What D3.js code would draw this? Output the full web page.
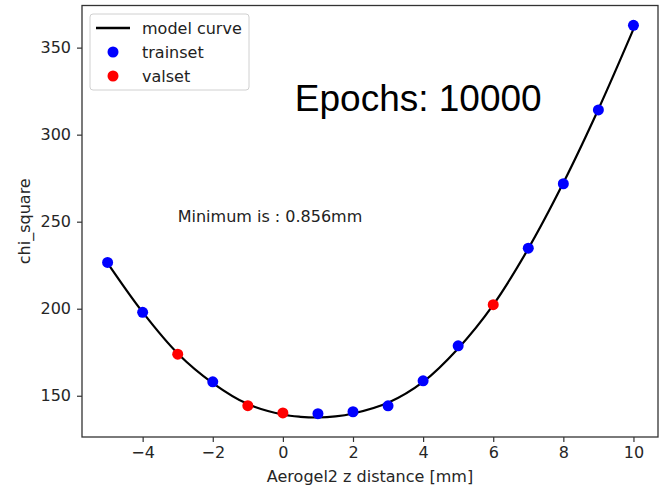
<!DOCTYPE html>
<html>
<head>
<meta charset="utf-8">
<script src="https://cdn.jsdelivr.net/npm/d3@7"></script>
<style>
  html, body { margin: 0; padding: 0; background: #fff; }
  svg { display: block; }
  text { font-family: "DejaVu Sans", sans-serif; }
</style>
</head>
<body>
<svg id="chart" width="660" height="488"></svg>
<script>
// Scan of chi_square against Aerogel2 z position
const trainX = [-5, -4, -2, 1, 2, 3, 4, 5, 7, 8, 9, 10];
const trainY = [226.6, 197.9, 158.0, 139.7, 140.8, 144.2, 158.6, 178.7, 234.8, 271.8, 314.2, 362.8];
const valX = [-3, -1, 0, 6];
const valY = [173.9, 144.3, 140.1, 202.3];

// fitted model curve, sampled along z
const curveX = [-5, -4, -3, -2, -1, 0, 0.5, 1, 1.5, 2, 3, 4, 5, 6, 7, 8, 9, 10];
const curveY = [226.2, 198.0, 174.3, 157.3, 145.2, 139.2, 137.9, 137.5, 138.1, 139.8, 146.0, 158.0, 177.2, 202.2, 234.5, 272.3, 314.6, 360.6];

const xTicks = [-4, -2, 0, 2, 4, 6, 8, 10];
const yTicks = [150, 200, 250, 300, 350];

const svg = d3.select("#chart");
const mLeft = 82, mRight = 658, mTop = 5.5, mBottom = 437;

const x = d3.scaleLinear().domain([-5.73, 10.70]).range([mLeft, mRight]);
const y = d3.scaleLinear().domain([126.3, 374.2]).range([mBottom, mTop]);

const tickColor = "#262626";

// x axis
const xAxis = svg.append("g")
  .attr("transform", `translate(0,${mBottom})`)
  .call(d3.axisBottom(x).tickValues(xTicks).tickSize(5).tickPadding(5)
        .tickFormat(d => d < 0 ? "\u2212" + Math.abs(d) : d));
xAxis.select(".domain").remove();
xAxis.selectAll(".tick line").attr("stroke", "#333").attr("stroke-width", 1.2);
xAxis.selectAll(".tick text").attr("font-size", 16).attr("fill", tickColor)
  .attr("font-family", "DejaVu Sans");

// y axis
const yAxis = svg.append("g")
  .attr("transform", `translate(${mLeft},0)`)
  .call(d3.axisLeft(y).tickValues(yTicks).tickSize(5).tickPadding(6));
yAxis.select(".domain").remove();
yAxis.selectAll(".tick line").attr("stroke", "#333").attr("stroke-width", 1.2);
yAxis.selectAll(".tick text").attr("font-size", 16).attr("fill", tickColor)
  .attr("font-family", "DejaVu Sans");

// plot area clip
svg.append("clipPath").attr("id", "plot")
  .append("rect").attr("x", mLeft).attr("y", mTop)
  .attr("width", mRight - mLeft).attr("height", mBottom - mTop);

const plot = svg.append("g").attr("clip-path", "url(#plot)");

// model curve
const curvePts = curveX.map((d, i) => [d, curveY[i]]);
plot.append("path")
  .datum(curvePts)
  .attr("fill", "none")
  .attr("stroke", "#000")
  .attr("stroke-width", 2.2)
  .attr("d", d3.line().x(d => x(d[0])).y(d => y(d[1])).curve(d3.curveCatmullRom.alpha(0.5)));

// trainset points
plot.selectAll("circle.train")
  .data(trainX.map((d, i) => [d, trainY[i]]))
  .join("circle")
  .attr("class", "train")
  .attr("cx", d => x(d[0])).attr("cy", d => y(d[1]))
  .attr("r", 5.5).attr("fill", "#0000ff");

// valset points
plot.selectAll("circle.val")
  .data(valX.map((d, i) => [d, valY[i]]))
  .join("circle")
  .attr("class", "val")
  .attr("cx", d => x(d[0])).attr("cy", d => y(d[1]))
  .attr("r", 5.5).attr("fill", "#ff0000");

// frame
svg.append("rect")
  .attr("x", mLeft).attr("y", mTop)
  .attr("width", mRight - mLeft).attr("height", mBottom - mTop)
  .attr("fill", "none").attr("stroke", "#333").attr("stroke-width", 1.3);

// annotations
svg.append("text")
  .attr("x", x(-3)).attr("y", y(250))
  .attr("font-size", 16).attr("fill", "#222")
  .text("Minimum is : 0.856mm");

svg.append("text")
  .attr("x", x(0.34)).attr("y", y(313.4))
  .style("font-family", "'Liberation Sans', Arial, sans-serif")
  .attr("font-size", 37).attr("fill", "#000")
  .text("Epochs: 10000");

// axis labels
svg.append("text")
  .attr("x", (mLeft + mRight) / 2).attr("y", 482)
  .attr("text-anchor", "middle").attr("font-size", 16).attr("fill", tickColor)
  .text("Aerogel2 z distance [mm]");

svg.append("text")
  .attr("transform", `translate(30,${(mTop + mBottom) / 2}) rotate(-90)`)
  .attr("text-anchor", "middle").attr("font-size", 16).attr("fill", tickColor)
  .text("chi_square");

// legend
const legend = svg.append("g");
legend.append("rect")
  .attr("x", 90).attr("y", 14).attr("width", 159).attr("height", 76)
  .attr("rx", 3).attr("fill", "#fff").attr("fill-opacity", 0.8)
  .attr("stroke", "#d0d0d0").attr("stroke-width", 1);

const legendItems = [
  { label: "model curve", kind: "line", color: "#000" },
  { label: "trainset", kind: "dot", color: "#0000ff" },
  { label: "valset", kind: "dot", color: "#ff0000" }
];
legendItems.forEach((it, i) => {
  const cy = 28 + i * 24;
  if (it.kind === "line") {
    legend.append("line").attr("x1", 96).attr("x2", 130)
      .attr("y1", cy).attr("y2", cy)
      .attr("stroke", it.color).attr("stroke-width", 2.4);
  } else {
    legend.append("circle").attr("cx", 113).attr("cy", cy).attr("r", 5.5)
      .attr("fill", it.color);
  }
  legend.append("text").attr("x", 142).attr("y", cy + 5.5)
    .attr("font-size", 16).attr("fill", "#222")
    .text(it.label);
});
</script>
</body>
</html>
